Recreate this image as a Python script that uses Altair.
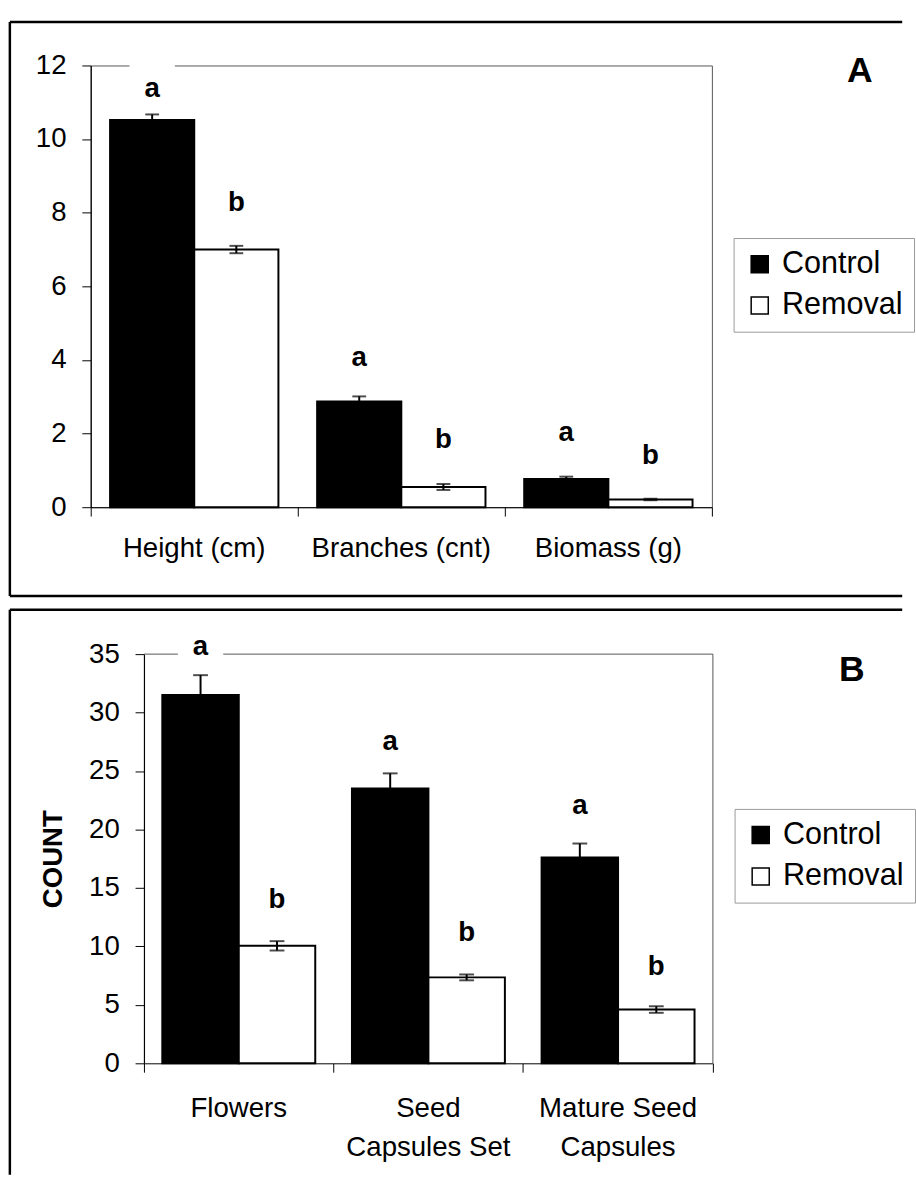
import json
import altair as alt
import pandas as pd

FONT = "Liberation Sans"
groups = ["Control", "Removal"]

# ---------- Panel A data ----------
a_categories = ["Height (cm)", "Branches (cnt)", "Biomass (g)"]
a_control = [10.52, 2.87, 0.77]
a_removal = [7.0, 0.55, 0.21]
a_control_se = [0.15, 0.14, 0.06]
a_removal_se = [0.10, 0.08, 0.02]
a_control_letter = ["a", "a", "a"]
a_removal_letter = ["b", "b", "b"]
a_control_letter_y = [11.37, 4.05, 2.02]
a_removal_letter_y = [8.27, 1.83, 1.39]
a_ticks = [0, 2, 4, 6, 8, 10, 12]

# ---------- Panel B data ----------
b_categories = ["Flowers", "Seed Capsules Set", "Mature Seed Capsules"]
b_label_lines = [["Flowers"], ["Seed", "Capsules Set"], ["Mature Seed", "Capsules"]]
b_control = [31.5, 23.5, 17.6]
b_removal = [10.05, 7.35, 4.6]
b_control_se = [1.7, 1.3, 1.2]
b_removal_se = [0.4, 0.25, 0.28]
b_control_letter = ["a", "a", "a"]
b_removal_letter = ["b", "b", "b"]
b_control_letter_y = [35.6, 27.5, 22.0]
b_removal_letter_y = [14.0, 11.1, 8.2]
b_ticks = [0, 5, 10, 15, 20, 25, 30, 35]


def make_df(cats, ctrl, rem, cse, rse, cl, rl, cly, rly, box_half):
    rows = []
    for i, c in enumerate(cats):
        for g, v, se, l, ly in [
            ("Control", ctrl[i], cse[i], cl[i], cly[i]),
            ("Removal", rem[i], rse[i], rl[i], rly[i]),
        ]:
            rows.append(dict(cat=c, group=g, value=v, lo=v - se, hi=v + se,
                             letter=l, ly=ly, box_lo=ly - box_half, box_hi=ly + box_half))
    return pd.DataFrame(rows)


one = alt.Data(values=[{"k": 1}])


def panel(df, cats, ticks, ymax, width, height, x0, pad_outer, cap, label_expr,
          x_label_pad, legend_x, legend_y, letter, letter_x, letter_y,
          frame_left, frame_top, frame_bottom, frame_right, y_title, title_x):
    x_axis = dict(title=None, labelAngle=0, bandPosition=1, tickExtra=True, tickSize=9,
                  labelPadding=x_label_pad, labelFontSize=28, labelLineHeight=39,
                  domainColor="black", tickColor="black", labelColor="black",
                  labelFont=FONT, labelBaseline="top", labelLimit=500)
    if label_expr:
        x_axis["labelExpr"] = label_expr
    xs = dict(paddingInner=0, paddingOuter=0)
    if x0:
        xs["range"] = [x0, width]
    x = alt.X("cat:N", sort=cats, scale=alt.Scale(**xs), axis=alt.Axis(**x_axis))
    xo = alt.XOffset("group:N", sort=groups,
                     scale=alt.Scale(paddingInner=0, paddingOuter=pad_outer))
    y_axis = dict(values=ticks, tickSize=9, labelPadding=16, labelFontSize=28,
                  labelColor="black", domainColor="black", tickColor="black",
                  domainWidth=1.2, grid=False, labelFont=FONT)
    if x0:
        y_axis["offset"] = -x0
    if y_title:
        y_axis.update(title=y_title, titleFontSize=28, titleFont=FONT, titleFontWeight="bold",
                      titleColor="black", titleAngle=-90, titleX=title_x, titleY=height / 2,
                      titleAlign="center", titleBaseline="middle")
    else:
        y_axis["title"] = None
    yscale = alt.Scale(domain=[0, ymax], nice=False, zero=True)
    base = alt.Chart(df).encode(x=x, xOffset=xo)
    bars = base.mark_bar(stroke="black", strokeWidth=2).encode(
        y=alt.Y("value:Q", scale=yscale, axis=alt.Axis(**y_axis)),
        color=alt.Color("group:N", sort=groups,
                        scale=alt.Scale(domain=groups, range=["black", "white"]),
                        legend=alt.Legend(title=None, orient="none", legendX=legend_x,
                                          legendY=legend_y, strokeColor="#999999",
                                          fillColor="white", padding=11,
                                          labelFontSize=31, labelFont=FONT,
                                          labelColor="black", symbolType="square",
                                          symbolSize=300, symbolStrokeColor="black",
                                          symbolStrokeWidth=1.5, rowPadding=10,
                                          labelOffset=7)),
    )
    boxes = base.mark_bar(width=46, color="white").encode(
        y=alt.Y("box_lo:Q", title=y_title), y2="box_hi:Q")
    letters = base.mark_text(font=FONT, fontSize=28, fontWeight="bold", color="black",
                             baseline="middle").encode(
        y=alt.Y("ly:Q", title=y_title), text="letter:N")
    err = base.mark_rule(color="black", strokeWidth=2).encode(
        y=alt.Y("lo:Q", title=y_title), y2="hi:Q")
    cap_lo = base.mark_tick(color="black", size=cap, thickness=2).encode(
        y=alt.Y("lo:Q", title=y_title))
    cap_hi = base.mark_tick(color="black", size=cap, thickness=2).encode(
        y=alt.Y("hi:Q", title=y_title))
    fl = alt.Chart(one).mark_rule(color="black", strokeWidth=2.5)
    frames = [
        fl.encode(x=alt.value(frame_left), y=alt.value(frame_top), y2=alt.value(frame_bottom)),
        fl.encode(x=alt.value(frame_left), x2=alt.value(frame_right), y=alt.value(frame_top)),
    ]
    if letter == "A":
        frames.append(fl.encode(x=alt.value(frame_left), x2=alt.value(frame_right),
                                y=alt.value(frame_bottom)))
    if x0:
        pb = alt.Chart(one).mark_rule(color="#555555", strokeWidth=1)
        frames.append(pb.encode(x=alt.value(x0), x2=alt.value(width), y=alt.value(0)))
        frames.append(pb.encode(x=alt.value(width), y=alt.value(0), y2=alt.value(height)))
    label = alt.Chart(one).mark_text(font=FONT, fontSize=36, fontWeight="bold",
                                     color="black", baseline="middle", align="center").encode(
        x=alt.value(letter_x), y=alt.value(letter_y), text=alt.value(letter))
    layer = alt.layer(*frames, bars, boxes, letters, err, cap_lo, cap_hi, label).properties(
        width=width, height=height)
    if x0:
        layer = layer.properties(view=alt.ViewBackground(stroke=None))
    return layer


df_a = make_df(a_categories, a_control, a_removal, a_control_se, a_removal_se,
               a_control_letter, a_removal_letter, a_control_letter_y, a_removal_letter_y, 0.64)
df_b = make_df(b_categories, b_control, b_removal, b_control_se, b_removal_se,
               b_control_letter, b_removal_letter, b_control_letter_y, b_removal_letter_y, 2.0)

label_expr_b = " : ".join(
    f"datum.label == '{c}' ? {json.dumps(lines)}" for c, lines in zip(b_categories, b_label_lines)
) + " : datum.label"

chart_a = panel(df_a, a_categories, a_ticks, 12, 630, 448, 0, 0.23, 14, None, 19,
                652, 175, "A", 780, 6, -82, -44, 538, 823, None, 0)
chart_b = panel(df_b, b_categories, b_ticks, 35, 631, 415, 54, 0.24, 15, label_expr_b, 23,
                653, 157, "B", 772, 16, -82, -45, 528, 823, "COUNT", -92)

chart = alt.vconcat(chart_a, chart_b, spacing=10).resolve_scale(
    color="independent", x="independent", y="independent", xOffset="independent"
).resolve_legend(color="independent").properties(
    padding={"left": 8, "top": 12, "right": 0, "bottom": 0}
).configure(font=FONT).configure_view(stroke="#555555", strokeWidth=1)

chart.save("out.html", embed_options={"renderer": "svg", "actions": False})
